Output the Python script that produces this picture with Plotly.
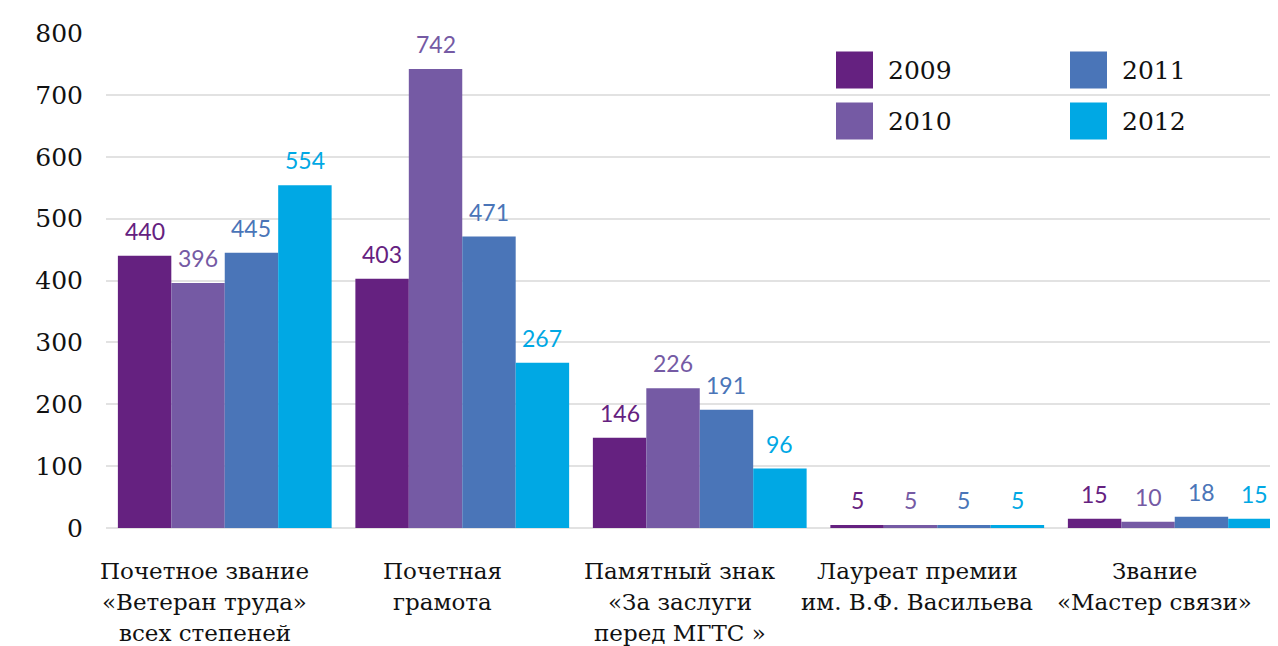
import plotly.graph_objects as go

categories = [
    ["Почетное звание", "«Ветеран труда»", "всех степеней"],
    ["Почетная", "грамота"],
    ["Памятный знак", "«За заслуги", "перед МГТС »"],
    ["Лауреат премии", "им. В.Ф. Васильева"],
    ["Звание", "«Мастер связи»"],
]
years = ["2009", "2010", "2011", "2012"]
colors = ["#652180", "#755AA4", "#4A75B8", "#00A8E4"]
values = {
    "2009": [440, 403, 146, 5, 15],
    "2010": [396, 742, 226, 5, 10],
    "2011": [445, 471, 191, 5, 18],
    "2012": [554, 267, 96, 5, 15],
}
y_ticks = [0, 100, 200, 300, 400, 500, 600, 700, 800]

SERIF = "DejaVu Serif"
LABEL_FONT = "Lato"
bargap = 0.1
n = len(years)
bw = (1 - bargap) / n

# page body has an 8px margin; figure sized to end at the window edge
FIG_W, FIG_H = 1270, 638
L, T, B = 98, 25, 118
PLOT_W = FIG_W - L
PLOT_H = FIG_H - T - B

fig = go.Figure()
xs = list(range(len(categories)))
annotations = []
for j, yr in enumerate(years):
    fig.add_trace(go.Bar(x=xs, y=values[yr], name=yr, marker_color=colors[j],
                         marker_line_width=0))
    off = (j - (n - 1) / 2) * bw
    for i, v in enumerate(values[yr]):
        annotations.append(dict(x=i + off, y=v, xref="x", yref="y", text=str(v),
                                showarrow=False, yanchor="middle", yshift=25,
                                font=dict(family=LABEL_FONT, size=23, color=colors[j])))

# category labels (multi-line, manual line spacing)
for i, lines in enumerate(categories):
    for k, line in enumerate(lines):
        annotations.append(dict(x=i, y=0, xref="x", yref="paper", text=line,
                                showarrow=False, yanchor="middle", xshift=-20,
                                yshift=-(43 + 31 * k),
                                font=dict(family=SERIF, size=23, color="#111111")))

# legend (manual, two columns); positions in px relative to plot area
shapes = []
leg_pos = [(730, 37), (730, 88), (964, 37), (964, 88)]
for j, yr in enumerate(years):
    px, py = leg_pos[j]
    shapes.append(dict(type="rect", xref="paper", yref="paper",
                       x0=px / PLOT_W, x1=(px + 37) / PLOT_W,
                       y0=1 - (py + 18.5) / PLOT_H, y1=1 - (py - 18.5) / PLOT_H,
                       fillcolor=colors[j], line_width=0))
    annotations.append(dict(x=(px + 50) / PLOT_W, y=1 - py / PLOT_H,
                            xref="paper", yref="paper", text=yr, showarrow=False,
                            xanchor="left", yanchor="middle",
                            font=dict(family=SERIF, size=25, color="#111111")))

fig.update_layout(
    width=FIG_W, height=FIG_H,
    margin=dict(l=L, r=0, t=T, b=B),
    barmode="group", bargap=bargap, bargroupgap=0,
    plot_bgcolor="white", paper_bgcolor="white",
    showlegend=False,
    annotations=annotations, shapes=shapes,
    xaxis=dict(range=[-0.5, -0.5 + PLOT_W / 237.5], showticklabels=False,
               showgrid=False, zeroline=False, showline=False, fixedrange=True),
    yaxis=dict(range=[0, 800], tickvals=y_ticks, showgrid=True,
               gridcolor="#E2E2E2", gridwidth=2, zeroline=True,
               zerolinecolor="#E2E2E2", zerolinewidth=2, showline=False,
               ticks="", ticklabelstandoff=22,
               tickfont=dict(family=SERIF, size=25, color="#111111")),
)
fig.write_html("out.html")
